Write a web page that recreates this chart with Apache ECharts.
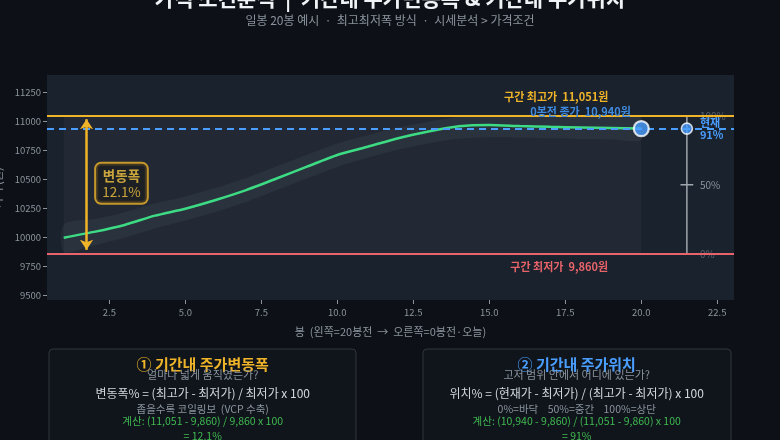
<!DOCTYPE html>
<html>
<head>
<meta charset="utf-8">
<script src="https://cdn.jsdelivr.net/npm/echarts@6/dist/echarts.min.js"></script>
<style>
html,body{margin:0;padding:0;background:#0d1117;}
#chart{width:780px;height:440px;}
</style>
</head>
<body>
<div id="chart"></div>
<script>
// 봉 번호 (1 = 20봉전, 20 = 오늘)
var bars = [1,2,3,4,5,6,7,8,9,10,11,12,13,14,15,16,17,18,19,20];
var closeVals = [10000,10050,10110,10190,10250,10325,10410,10510,10612,10713,10784,10857,10915,10960,10972,10962,10955,10950,10945,10940];
var highVals = [10115,10160,10220,10295,10355,10430,10515,10615,10715,10812,10882,10950,11000,11040,11051,11046,11043,11041,11039,11036];
var lowVals = [9875,9935,10000,10080,10148,10222,10308,10408,10510,10610,10688,10758,10812,10852,10866,10862,10856,10850,10846,10842];
var rangeHigh = 11051;
var rangeLow = 9860;
var curPrice = 10940;
var xTicks = [2.5,5,7.5,10,12.5,15,17.5,20,22.5];
var yTicks = [9500,9750,10000,10250,10500,10750,11000,11250];

var FONT = '"Noto Sans CJK KR", "Noto Sans", sans-serif';
var C_YEL = '#f0b429', C_RED = '#e8646a', C_BLUE = '#4a9eff', C_GRN = '#3ddc84', C_GRAY = '#8b949e';

var widthPct = (rangeHigh - rangeLow) / rangeLow * 100;
var posPct = (curPrice - rangeLow) / (rangeHigh - rangeLow) * 100;
var gaugeX = 21.5;
var midVal = (rangeHigh + rangeLow) / 2;

function fmt(n){ return n.toLocaleString('en-US'); }
function pairs(ys){ return bars.map(function(x,i){ return [x, ys[i]]; }); }

var chart = echarts.init(document.getElementById('chart'));

function txt(value, text, color, opt){
	opt = opt || {};
	return {
		value: value,
		label: {
			show: true, position: 'inside', formatter: text, color: color,
			fontFamily: FONT, fontSize: opt.size || 11, fontWeight: opt.weight || 'bold',
			align: opt.align || 'center', offset: opt.offset || [0,0],
			lineHeight: opt.lh || 12, opacity: opt.opacity == null ? 1 : opt.opacity
		}
	};
}

// 고가/저가 범위 밴드 (custom 폴리곤)
function bandItem(params, api){
	if (params.dataIndex !== 0) return null;
	var pts = [];
	for (var i = 0; i < bars.length; i++) pts.push(api.coord([bars[i], highVals[i]]));
	for (var j = bars.length - 1; j >= 0; j--) pts.push(api.coord([bars[j], lowVals[j]]));
	return { type: 'polygon', shape: { points: pts, smooth: 0.25 }, style: { fill: 'rgba(150,165,185,0.07)' } };
}

var option = {
	backgroundColor: '#0d1117',
	animation: false,
	grid: { left: 47, right: 46, top: 75, bottom: 140, outerBoundsMode: 'none', containLabel: false,
		show: true, backgroundColor: '#1a222d', borderWidth: 0 },
	xAxis: {
		type: 'value', min: 0.45, max: 23.05,
		name: '봉  (왼쪽=20봉전  →  오른쪽=0봉전·오늘)', nameLocation: 'middle', nameGap: 26,
		nameTextStyle: { color: C_GRAY, fontSize: 11, fontFamily: FONT },
		axisLine: { show: false },
		axisTick: { show: true, length: 4, lineStyle: { color: C_GRAY }, customValues: xTicks },
		axisLabel: { color: C_GRAY, fontSize: 9.5, fontFamily: FONT, customValues: xTicks,
			formatter: function(v){ return v.toFixed(1); } },
		splitLine: { show: false }
	},
	yAxis: {
		type: 'value', min: 9463, max: 11402,
		name: '가격 (원)', nameLocation: 'middle', nameGap: 39, nameRotate: 90,
		nameTextStyle: { color: C_GRAY, fontSize: 11, fontFamily: FONT },
		axisLine: { show: false },
		axisTick: { show: true, length: 4, lineStyle: { color: C_GRAY }, customValues: yTicks },
		axisLabel: { color: C_GRAY, fontSize: 9.5, fontFamily: FONT, customValues: yTicks, margin: 6,
			formatter: function(v){ return String(v); } },
		splitLine: { show: false }
	},
	graphic: [
		{ type: 'text', left: 'center', top: -12, style: { text: '가격 조건분석  |  기간내 주가변동폭 & 기간내 주가위치',
			fill: '#f0f3f6', font: 'bold 21px ' + FONT } },
		{ type: 'text', left: 'center', top: 14, style: { text: '일봉 20봉 예시  ·  최고최저폭 방식  ·  시세분석 > 가격조건',
			fill: C_GRAY, font: '12px ' + FONT } },
		{ type: 'rect', shape: { x: 49, y: 349, width: 307, height: 110, r: 4 },
			style: { fill: '#10151c', stroke: '#30363d', lineWidth: 1 } },
		{ type: 'rect', shape: { x: 423, y: 349, width: 308, height: 110, r: 4 },
			style: { fill: '#10151c', stroke: '#30363d', lineWidth: 1 } }
	],
	series: [
		{
			type: 'custom', data: [[1, 0]], renderItem: bandItem, silent: true, z: 1, clip: true,
			markArea: {
				silent: true,
				itemStyle: { color: 'rgba(255,255,255,0.035)' },
				data: [[{ xAxis: 1, yAxis: rangeLow }, { xAxis: 20, yAxis: rangeHigh }]]
			}
		},
		{
			type: 'line', data: pairs(closeVals), smooth: 0.2, symbol: 'none', z: 3,
			lineStyle: { color: C_GRN, width: 2.5 },
			markLine: {
				silent: true, symbol: 'none', label: { show: false },
				data: [
					{ yAxis: rangeHigh, lineStyle: { color: C_YEL, width: 2, type: 'solid' } },
					{ yAxis: curPrice, lineStyle: { color: C_BLUE, width: 2, type: [7,5] } },
					{ yAxis: rangeLow, lineStyle: { color: C_RED, width: 2, type: 'solid' } },
					[
						{ coord: [1.75, rangeHigh - 30], symbol: 'arrow', symbolSize: [10,10], lineStyle: { color: C_YEL, width: 2.5, type: 'solid' } },
						{ coord: [1.75, rangeLow + 35], symbol: 'arrow', symbolSize: [10,10] }
					]
				]
			}
		},
		// 현재위치 게이지
		{
			type: 'line', data: [[gaugeX, rangeLow], [gaugeX, rangeHigh]], symbol: 'none', silent: true, z: 2,
			lineStyle: { color: '#a0a6ad', width: 1.5 }
		},
		{
			type: 'line', data: [[gaugeX - 0.21, midVal], [gaugeX + 0.21, midVal]], symbol: 'none', silent: true, z: 2,
			lineStyle: { color: '#a0a6ad', width: 1.5 }
		},
		{
			type: 'scatter', symbolSize: 0, silent: true, z: 1,
			data: [
				txt([gaugeX, rangeHigh], '100%', C_GRAY, { weight: 'normal', size: 10, align: 'left', offset: [13, 0], opacity: 0.55 }),
				txt([gaugeX, midVal], '50%', C_GRAY, { weight: 'normal', size: 10, align: 'left', offset: [13, 0] }),
				txt([gaugeX, rangeLow], '0%', C_GRAY, { weight: 'normal', size: 10, align: 'left', offset: [13, 0], opacity: 0.55 })
			]
		},
		{
			type: 'scatter', symbolSize: 0, silent: true, z: 6,
			data: [
				txt([17.2, 11215], '구간 최고가  ' + fmt(rangeHigh) + '원', C_YEL),
				txt([18.0, 11086], '0봉전 종가  ' + fmt(curPrice) + '원', '#3f8be0'),
				txt([17.3, 9750], '구간 최저가  ' + fmt(rangeLow) + '원', C_RED),
				txt([gaugeX, curPrice], '현재\n' + Math.round(posPct) + '%', C_BLUE, { size: 11, align: 'left', offset: [13, 0], lh: 12.5 })
			]
		},
		{
			type: 'scatter', silent: true, z: 7,
			data: [
				{ value: [20, curPrice], symbolSize: 15, itemStyle: { color: C_BLUE, borderColor: '#ffffff', borderWidth: 2.2 } },
				{ value: [gaugeX, curPrice], symbolSize: 11, itemStyle: { color: C_BLUE, borderColor: '#ffffff', borderWidth: 1.6 } }
			]
		},
		{
			type: 'scatter', symbolSize: 0, silent: true, z: 8,
			data: [{
				value: [2.9, 10469],
				label: {
					show: true, position: 'inside', formatter: '{a|변동폭}\n{b|' + widthPct.toFixed(1) + '%}',
					backgroundColor: '#1c1d20', borderColor: C_YEL, borderWidth: 2, borderRadius: 5,
					padding: [4, 6, 3, 6],
					rich: {
						a: { color: '#f5c542', fontFamily: FONT, fontSize: 13.5, fontWeight: 'bold', lineHeight: 16, align: 'center' },
						b: { color: '#f5c542', fontFamily: FONT, fontSize: 13.5, lineHeight: 16, align: 'center' }
					}
				}
			}]
		}
	]
};

chart.setOption(option);

// 하단 설명 박스
var boxes = [
	{ cx: 202.7, color: C_YEL,
		lines: ['① 기간내 주가변동폭', '얼마나 넓게 움직였는가?', '변동폭% = (최고가 - 최저가) / 최저가 x 100',
			'좁을수록 코일링보  (VCP 수축)',
			'계산: (' + fmt(rangeHigh) + ' - ' + fmt(rangeLow) + ') / ' + fmt(rangeLow) + ' x 100',
			'= ' + widthPct.toFixed(1) + '%'] },
	{ cx: 576.7, color: C_BLUE,
		lines: ['② 기간내 주가위치', '고저 범위 안에서 어디에 있는가?', '위치% = (현재가 - 최저가) / (최고가 - 최저가) x 100',
			'0%=바닥    50%=중간    100%=상단',
			'계산: (' + fmt(curPrice) + ' - ' + fmt(rangeLow) + ') / (' + fmt(rangeHigh) + ' - ' + fmt(rangeLow) + ') x 100',
			'= ' + Math.round(posPct) + '%'] }
];
var rowY = [364, 375, 393, 409, 421.5, 436.5];
var extra = [];
boxes.forEach(function(b){
	var styles = [
		{ fill: b.color, font: 'bold 15px ' + FONT },
		{ fill: C_GRAY, font: '11px ' + FONT },
		{ fill: '#d0d7de', font: '12px ' + FONT },
		{ fill: C_GRAY, font: '10.5px ' + FONT },
		{ fill: '#3fb950', font: '10.5px ' + FONT },
		{ fill: '#3fb950', font: '10.5px ' + FONT }
	];
	b.lines.forEach(function(t, i){
		extra.push({ type: 'text', x: b.cx, y: rowY[i], z: 10,
			style: { text: t, fill: styles[i].fill, font: styles[i].font, textAlign: 'center', textVerticalAlign: 'middle' } });
	});
});
chart.setOption({ graphic: option.graphic.concat(extra) });
</script>
</body>
</html>
